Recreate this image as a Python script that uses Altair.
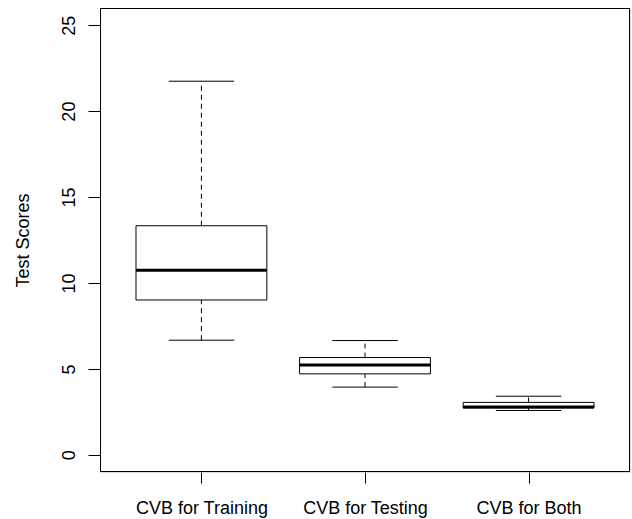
import altair as alt
import pandas as pd

groups = ["CVB for Training", "CVB for Testing", "CVB for Both"]
lower = [6.67, 3.94, 2.58]
q1 = [9.01, 4.71, 2.73]
median = [10.74, 5.23, 2.78]
q3 = [13.33, 5.66, 3.05]
upper = [21.74, 6.65, 3.41]
y_ticks = [0, 5, 10, 15, 20, 25]

df = pd.DataFrame({
    "group": groups,
    "pos": list(range(1, len(groups) + 1)),
    "lower": lower, "q1": q1, "median": median, "q3": q3, "upper": upper,
})

label_expr = " : ".join(
    f"datum.value == {i + 1} ? '{g}'" for i, g in enumerate(groups)
) + " : ''"

font = "Liberation Sans"
xscale = alt.Scale(domain=[0.38, 3.62], nice=False, zero=False)
yscale = alt.Scale(domain=[-1, 26], nice=False, zero=False)

x_axis = alt.Axis(values=[1, 2, 3], labelExpr=label_expr, tickSize=11, labelPadding=30,
                  labelBaseline="alphabetic", labelFontSize=18, labelFont=font,
                  labelColor="black", tickColor="black", domain=False, grid=False)
y_axis = alt.Axis(values=y_ticks, tickSize=12, labelPadding=14, labelAngle=270,
                  labelAlign="center", labelBaseline="alphabetic", labelFontSize=18,
                  labelFont=font, labelColor="black", tickColor="black", domain=False,
                  grid=False, title="Test Scores", titleFont=font, titleFontSize=18,
                  titleFontWeight="normal", titleColor="black", titleAngle=270,
                  titleX=-72, titleY=232, titleAlign="center", titleBaseline="alphabetic")

base = alt.Chart(df).transform_calculate(
    bl="datum.pos - 0.4", br="datum.pos + 0.4",
    cl="datum.pos - 0.2", cr="datum.pos + 0.2",
)

whisk_up = base.mark_rule(color="black", strokeWidth=1, strokeDash=[5, 4]).encode(
    x=alt.X("pos:Q", scale=xscale, axis=x_axis, title=None),
    y=alt.Y("q3:Q", scale=yscale, axis=y_axis),
    y2="upper:Q",
)
whisk_lo = base.mark_rule(color="black", strokeWidth=1, strokeDash=[5, 4]).encode(
    x=alt.X("pos:Q", scale=xscale, title=None),
    y=alt.Y("lower:Q", scale=yscale, title="Test Scores"),
    y2="q1:Q",
)
cap_up = base.mark_rule(color="black", strokeWidth=1).encode(
    x=alt.X("cl:Q", scale=xscale, title=None), x2="cr:Q",
    y=alt.Y("upper:Q", scale=yscale, title="Test Scores"),
)
cap_lo = base.mark_rule(color="black", strokeWidth=1).encode(
    x=alt.X("cl:Q", scale=xscale, title=None), x2="cr:Q",
    y=alt.Y("lower:Q", scale=yscale, title="Test Scores"),
)
box = base.mark_rect(fill="white", stroke="black", strokeWidth=1).encode(
    x=alt.X("bl:Q", scale=xscale, title=None), x2="br:Q",
    y=alt.Y("q1:Q", scale=yscale, title="Test Scores"), y2="q3:Q",
)
med = base.mark_rule(color="black", strokeWidth=3).encode(
    x=alt.X("bl:Q", scale=xscale, title=None), x2="br:Q",
    y=alt.Y("median:Q", scale=yscale, title="Test Scores"),
)
frame = alt.Chart(pd.DataFrame({"f": [0]})).mark_rect(
    filled=False, stroke="black", strokeWidth=1
).encode(
    x=alt.value(0.5), x2=alt.value(529.5), y=alt.value(0.5), y2=alt.value(463.5)
)

chart = alt.layer(whisk_up, whisk_lo, cap_up, cap_lo, box, med, frame).properties(
    width=530, height=464, autosize="none",
    padding={"left": 100, "top": 8, "right": 2, "bottom": 47},
).configure_view(strokeWidth=0).configure(background="white")

chart.save("out.html", embed_options={"renderer": "svg", "actions": False})
